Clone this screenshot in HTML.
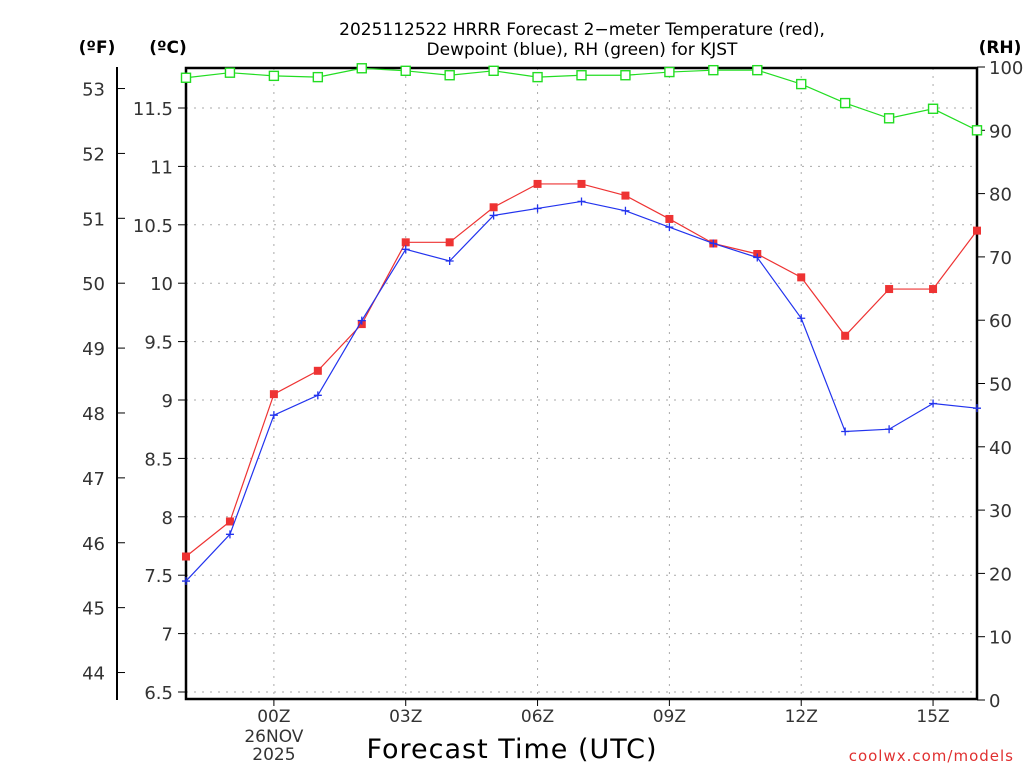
<!DOCTYPE html>
<html><head><meta charset="utf-8"><style>
body{margin:0;background:#fff;}
svg{display:block;font-family:"DejaVu Sans","Liberation Sans",sans-serif;}
</style></head><body>
<svg id="c" width="1024" height="768">
<text x="582" y="35" font-size="17" text-anchor="middle">2025112522 HRRR Forecast 2−meter Temperature (red),</text>
<text x="582" y="55" font-size="17" text-anchor="middle">Dewpoint (blue), RH (green) for KJST</text>
<text x="97" y="53" font-size="17" font-weight="bold" text-anchor="middle">(ºF)</text>
<text x="168" y="53" font-size="17" font-weight="bold" text-anchor="middle">(ºC)</text>
<text x="1000" y="53" font-size="17" font-weight="bold" text-anchor="middle">(RH)</text>
<text x="512" y="758" font-size="27" text-anchor="middle" letter-spacing="1">Forecast Time (UTC)</text>
<text x="1014" y="761" font-size="15" fill="#e03030" text-anchor="end" letter-spacing="1">coolwx.com/models</text>
<g id="g"></g>
</svg>
<script>
const hours=[22,23,0,1,2,3,4,5,6,7,8,9,10,11,12,13,14,15,16];
const tempC=[7.66,7.96,9.05,9.25,9.65,10.35,10.35,10.65,10.85,10.85,10.75,10.55,10.34,10.25,10.05,9.55,9.95,9.95,10.45];
const dewC=[7.45,7.85,8.87,9.04,9.68,10.29,10.19,10.58,10.64,10.70,10.62,10.48,10.34,10.22,9.70,8.73,8.75,8.97,8.93];
const rh=[98.3,99.1,98.6,98.4,99.8,99.4,98.7,99.4,98.4,98.7,98.7,99.2,99.5,99.5,97.3,94.3,91.9,93.4,90.0];
const cTicks=[6.5,7,7.5,8,8.5,9,9.5,10,10.5,11,11.5];
const fTicks=[44,45,46,47,48,49,50,51,52,53];
const rhTicks=[0,10,20,30,40,50,60,70,80,90,100];
const xTickLabels=["00Z","03Z","06Z","09Z","12Z","15Z"];
const L=186,R=977,T=68,B=699;
const xs=i=>L+i*(R-L)/18;
const yc=c=>108+(11.5-c)*116.8;
const yf=f=>yc((f-32)*5/9);
const yr=r=>700-r*6.33;
const g=document.getElementById('g');
const NS='http://www.w3.org/2000/svg';
function mk(t,a,txt){const e=document.createElementNS(NS,t);for(const k in a)e.setAttribute(k,a[k]);if(txt!==undefined)e.textContent=txt;g.appendChild(e);return e;}
cTicks.forEach(c=>{const e=mk('line',{x1:L,x2:R,y1:yc(c),y2:yc(c),stroke:'#aaa','stroke-dasharray':'2,6'});


const t=mk('text',{x:L-13,y:yc(c)+7,'font-size':18,'text-anchor':'end',fill:'#333'},String(c));


mk('line',{x1:L-8,x2:L,y1:yc(c),y2:yc(c),stroke:'#000'});});
xTickLabels.forEach((lab,k)=>{const x=xs(2+3*k);
const e=mk('line',{x1:x,x2:x,y1:T,y2:B,stroke:'#aaa','stroke-dasharray':'2,6'});


mk('line',{x1:x,x2:x,y1:B,y2:B+7,stroke:'#000'});
const t=mk('text',{x:x,y:B+23,'font-size':17,'text-anchor':'middle',fill:'#333'},lab);

});
let t1=mk('text',{x:xs(2),y:742,'font-size':17,'text-anchor':'middle',fill:'#333'},'26NOV');


t1=mk('text',{x:xs(2),y:760,'font-size':17,'text-anchor':'middle',fill:'#333'},'2025');


mk('line',{x1:117,x2:117,y1:67,y2:700,stroke:'#000','stroke-width':2});
fTicks.forEach(f=>{mk('line',{x1:117,x2:125,y1:yf(f),y2:yf(f),stroke:'#000'});
const t=mk('text',{x:105,y:yf(f)+7,'font-size':18,'text-anchor':'end',fill:'#333'},String(f));

});
rhTicks.forEach(r=>{mk('line',{x1:R,x2:R+8,y1:yr(r),y2:yr(r),stroke:'#000'});
const t=mk('text',{x:R+12,y:yr(r)+7,'font-size':18,fill:'#333'},String(r));

});
const fr=mk('rect',{x:L,y:T,width:R-L,height:B-T,fill:'none',stroke:'#000','stroke-width':2.5});


function series(vals,yfn,col,name,marker){
const pts=vals.map((v,i)=>xs(i)+','+yfn(v)).join(' ');
const pl=mk('polyline',{points:pts,fill:'none',stroke:col,'stroke-width':1.2});


vals.forEach((v,i)=>{const x=xs(i),y=yfn(v);let m;
if(marker==='fill')m=mk('rect',{x:x-4,y:y-4,width:8,height:8,fill:col});
else if(marker==='open')m=mk('rect',{x:x-4.5,y:y-4.5,width:9,height:9,fill:'#fff',stroke:col,'stroke-width':1.4});
else m=mk('path',{d:`M${x-4},${y}H${x+4}M${x},${y-4}V${y+4}`,stroke:col,'stroke-width':1.3});

});}
series(rh,yr,'#22dd22','rh','open');
series(tempC,yc,'#ee3333','temperature','fill');
series(dewC,yc,'#2233ee','dewpoint','plus');
</script>
</body></html>
